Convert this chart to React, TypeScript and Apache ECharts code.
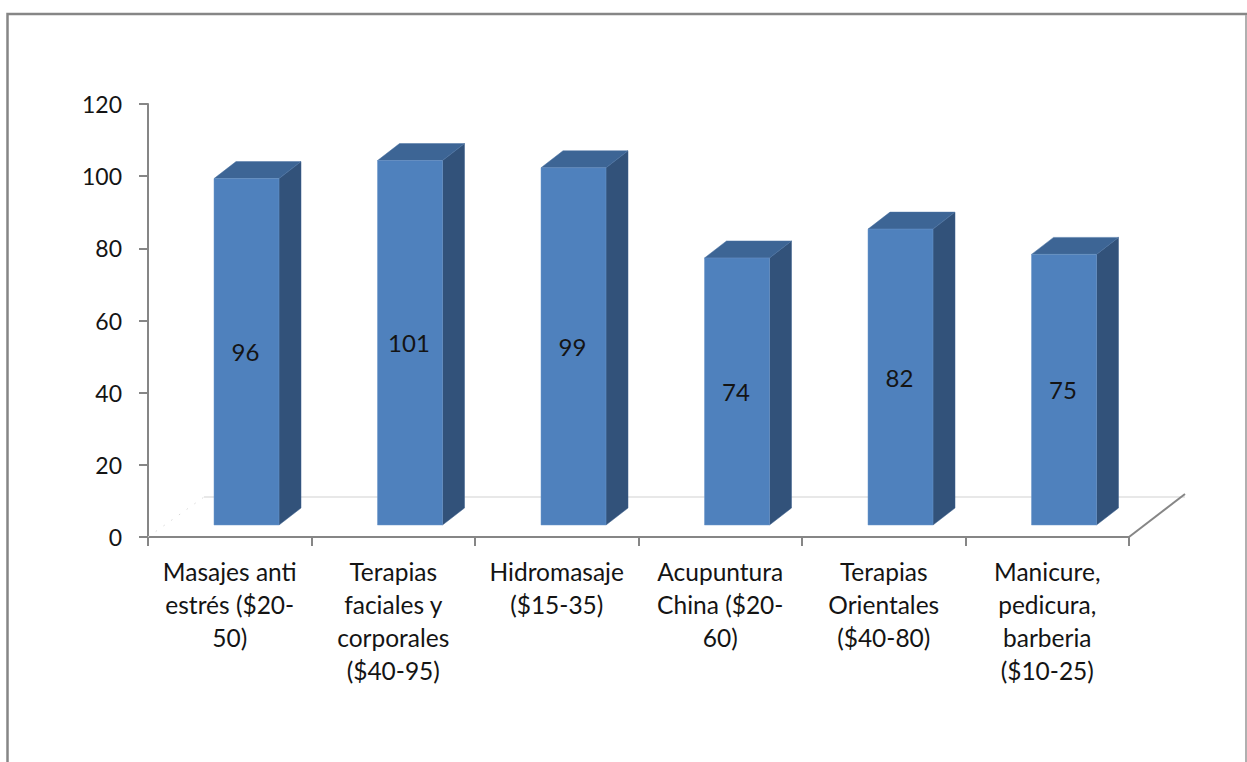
import React, { useEffect, useRef } from "react";
import * as echarts from "echarts";

const categories = [
  "Masajes anti\nestrés ($20-\n50)",
  "Terapias\nfaciales y\ncorporales\n($40-95)",
  "Hidromasaje\n($15-35)",
  "Acupuntura\nChina ($20-\n60)",
  "Terapias\nOrientales\n($40-80)",
  "Manicure,\npedicura,\nbarberia\n($10-25)",
];
const values = [96, 101, 99, 74, 82, 75];
const yTicks = { min: 0, max: 120, interval: 20 };

const FONT = "Lato";
const AXIS = "#868686";
const TEXT = "#141414";
const DEPTH_X = 22;
const DEPTH_Y = 17;
const FLOOR_Y = 12;
const BAR_SHIFT = 17;
const BAR_W = 65;

export default function App() {
  const ref = useRef<HTMLDivElement>(null);

  useEffect(() => {
    const chart = echarts.init(ref.current!, null, { renderer: "svg" });
    chart.setOption({
      animation: false,
      backgroundColor: "#ffffff",
      grid: { left: 148, right: 118, top: 104, bottom: 225, containLabel: false },
      xAxis: {
        type: "category",
        data: categories,
        axisLine: { lineStyle: { color: AXIS, width: 2 } },
        axisTick: { show: true, length: 9, lineStyle: { color: AXIS, width: 2 } },
        axisLabel: { interval: 0, color: TEXT, fontFamily: FONT, fontSize: 24.5, lineHeight: 33, margin: 18 },
      },
      yAxis: {
        type: "value",
        ...yTicks,
        splitLine: { show: false },
        axisLine: { show: true, lineStyle: { color: AXIS, width: 2 } },
        axisTick: { show: true, length: 9, lineStyle: { color: AXIS, width: 2 } },
        axisLabel: { color: TEXT, fontFamily: FONT, fontSize: 23, margin: 26 },
      },
      series: [
        {
          // Perspective floor behind the columns
          type: "custom",
          coordinateSystem: "cartesian2d",
          silent: true,
          z: 1,
          data: [0],
          renderItem: (_p: any, api: any) => {
            const [x0, y0] = api.coord([0, 0]);
            const band = api.size([1, 0])[0];
            const left = x0 - band / 2;
            const right = left + band * categories.length;
            const dx = 56;
            const dy = 40;
            return {
              type: "group",
              children: [
                { type: "line", shape: { x1: left + dx, y1: y0 - dy, x2: right + dx, y2: y0 - dy }, style: { stroke: "#e0e0e0", lineWidth: 1.5 } },
                { type: "line", shape: { x1: left, y1: y0, x2: left + dx, y2: y0 - dy }, style: { stroke: "#d8d8d8", lineWidth: 1, lineDash: [1.5, 8] } },
                { type: "line", shape: { x1: right, y1: y0, x2: right + dx, y2: y0 - dy - 3 }, style: { stroke: AXIS, lineWidth: 2 } },
              ],
            };
          },
        },
        {
          // Extruded columns: front, top and side faces
          type: "custom",
          coordinateSystem: "cartesian2d",
          z: 2,
          encode: { x: 0, y: 1 },
          data: values.map((v, i) => [i, v]),
          renderItem: (_p: any, api: any) => {
            const [cx, baseY] = api.coord([api.value(0), 0]);
            const yTop = api.coord([api.value(0), api.value(1)])[1];
            const x1 = cx + BAR_SHIFT - BAR_W / 2 - 0.25;
            const x2 = x1 + BAR_W;
            const bottom = baseY - FLOOR_Y;
            const top = yTop - FLOOR_Y;
            return {
              type: "group",
              children: [
                {
                  type: "polygon",
                  shape: { points: [[x2, top], [x2 + DEPTH_X, top - DEPTH_Y], [x2 + DEPTH_X, bottom - DEPTH_Y], [x2, bottom]] },
                  style: { fill: "#32527a", stroke: "#3a5f8c", lineWidth: 0.5 },
                },
                {
                  type: "polygon",
                  shape: { points: [[x1, top], [x1 + DEPTH_X, top - DEPTH_Y], [x2 + DEPTH_X, top - DEPTH_Y], [x2, top]] },
                  style: { fill: "#3d6595", stroke: "#4a72a2", lineWidth: 0.5 },
                },
                {
                  type: "rect",
                  shape: { x: x1, y: top, width: BAR_W, height: bottom - top },
                  style: { fill: "#4f81bd", stroke: "#6b95c8", lineWidth: 0.5 },
                },
                {
                  type: "text",
                  style: {
                    text: String(api.value(1)),
                    x: (x1 + x2) / 2 - 1,
                    y: (top + bottom) / 2,
                    align: "center",
                    verticalAlign: "middle",
                    fill: TEXT,
                    font: `24px ${FONT}`,
                  },
                },
              ],
            };
          },
        },
      ],
      graphic: [
        {
          // Outer chart frame; the bottom edge falls past the page
          type: "polyline",
          silent: true,
          shape: { points: [[7.5, 762], [7.5, 14], [1247, 14]] },
          style: { stroke: AXIS, lineWidth: 2.5, fill: "none" },
        },
        {
          type: "line",
          silent: true,
          shape: { x1: 1246, y1: 15, x2: 1246, y2: 762 },
          style: { stroke: "#b0b0b0", lineWidth: 2 },
        },
      ],
    });
    return () => chart.dispose();
  }, []);

  return <div ref={ref} style={{ position: "fixed", left: 0, top: 0, width: 1247, height: 762 }} />;
}
